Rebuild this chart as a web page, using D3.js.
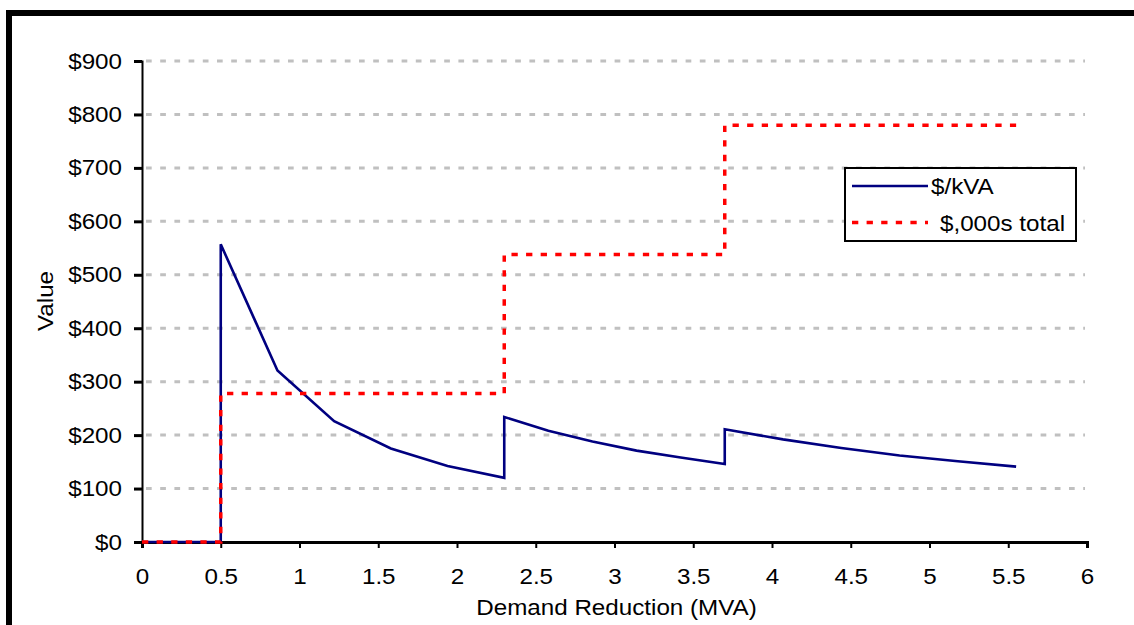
<!DOCTYPE html>
<html>
<head>
<meta charset="utf-8">
<script src="https://cdn.jsdelivr.net/npm/d3@7"></script>
<style>
  html, body { margin: 0; padding: 0; background: #fff; }
  svg { display: block; }
  text { font-family: "Liberation Sans", Arial, sans-serif; fill: #000; }
</style>
</head>
<body>
<svg id="chart" width="1134" height="625"></svg>
<script>
// Demand reduction (MVA) and the matching cost per kVA
const demandMVA = [0, 0.5, 0.5, 0.86, 1.22, 1.58, 1.94, 2.3, 2.3, 2.58, 2.86, 3.14, 3.42, 3.7, 3.7, 4.07, 4.44, 4.81, 5.18, 5.55];
const costPerKVA = [0, 0, 557, 321, 226, 175, 142, 120, 234, 208, 188, 171, 158, 146, 211, 192, 176, 162, 151, 141];

// Total cost ($,000s) steps: each value holds from its break point onward
const totalBreaks = [0, 0.5, 2.3, 3.7, 5.55];
const totalCost = [0, 278, 538, 780, 780];

const xTicks = [0, 0.5, 1, 1.5, 2, 2.5, 3, 3.5, 4, 4.5, 5, 5.5, 6];
const yTicks = [0, 100, 200, 300, 400, 500, 600, 700, 800, 900];
const seriesNames = ["$/kVA", "$,000s total"];

const FONT = 22;
const STRETCH = 1.1; // slightly wide lettering

const svg = d3.select("#chart");

// Outer frame (top and left edges)
svg.append("rect").attr("x", 6).attr("y", 10).attr("width", 1128).attr("height", 6).attr("fill", "#000");
svg.append("rect").attr("x", 6).attr("y", 10).attr("width", 6).attr("height", 615).attr("fill", "#000");

const x = d3.scaleLinear().domain([0, 6]).range([142, 1087]);
const y = d3.scaleLinear().domain([0, 900]).range([542, 61]);

// Horizontal gridlines
svg.append("g")
  .selectAll("line")
  .data(yTicks.filter(d => d > 0))
  .join("line")
  .attr("x1", x(0) + 4).attr("x2", x(6) - 2)
  .attr("y1", d => y(d)).attr("y2", d => y(d))
  .attr("stroke", "#c0c0c0").attr("stroke-width", 3)
  .attr("stroke-dasharray", "5.7,8.5");

// Y axis
const yAxis = d3.axisLeft(y).tickValues(yTicks).tickSize(8).tickPadding(12)
  .tickFormat(d => "$" + d);
const gy = svg.append("g").attr("transform", `translate(${x(0)},0)`).call(yAxis);
gy.select(".domain").attr("stroke", "#000").attr("stroke-width", 2);
gy.selectAll(".tick line").attr("stroke", "#000").attr("stroke-width", 3);
gy.selectAll(".tick text")
  .attr("font-size", FONT).attr("font-family", "Liberation Sans, Arial, sans-serif")
  .attr("x", -20 / STRETCH)
  .attr("transform", `scale(${STRETCH},1)`);

// X axis
const xAxis = d3.axisBottom(x).tickValues(xTicks).tickSize(6).tickPadding(20)
  .tickFormat(d => String(d));
const gx = svg.append("g").attr("transform", `translate(0,${y(0)})`).call(xAxis);
gx.select(".domain").attr("stroke", "#000").attr("stroke-width", 3);
gx.selectAll(".tick line").attr("stroke", "#000").attr("stroke-width", 2);
gx.selectAll(".tick text")
  .attr("font-size", FONT).attr("font-family", "Liberation Sans, Arial, sans-serif")
  .attr("transform", `scale(${STRETCH},1)`);

// Axis titles
svg.append("text")
  .attr("transform", `translate(${(x(0) + x(6)) / 2 + 2},615) scale(${STRETCH},1)`)
  .attr("text-anchor", "middle").attr("font-size", FONT)
  .text("Demand Reduction (MVA)");
svg.append("text")
  .attr("transform", `translate(53,301) rotate(-90) scale(${STRETCH},1)`)
  .attr("text-anchor", "middle").attr("font-size", FONT)
  .text("Value");

// $/kVA line
const perKvaLine = d3.line()
  .x((d, i) => x(demandMVA[i]))
  .y(d => y(d));
svg.append("path")
  .datum(costPerKVA)
  .attr("d", perKvaLine)
  .attr("fill", "none")
  .attr("stroke", "#000080")
  .attr("stroke-width", 2.6)
  .attr("stroke-linejoin", "miter");

// Total cost step line
const totalLine = d3.line()
  .x((d, i) => x(totalBreaks[i]))
  .y(d => y(d))
  .curve(d3.curveStepAfter);
svg.append("path")
  .datum(totalCost)
  .attr("d", totalLine)
  .attr("fill", "none")
  .attr("stroke", "#ff0000")
  .attr("stroke-width", 3.5)
  .attr("stroke-dasharray", "6.3,8.3");

// Legend
const legend = svg.append("g");
legend.append("rect")
  .attr("x", 845).attr("y", 168).attr("width", 231).attr("height", 73)
  .attr("fill", "#fff").attr("stroke", "#000").attr("stroke-width", 2);
const legendRows = [
  { name: seriesNames[0], color: "#000080", dash: null, width: 2.6, cy: 186, tx: 931 },
  { name: seriesNames[1], color: "#ff0000", dash: "6.3,8.3", width: 3.5, cy: 222.5, tx: 940 }
];
legendRows.forEach(r => {
  legend.append("line")
    .attr("x1", 852).attr("x2", 928).attr("y1", r.cy).attr("y2", r.cy)
    .attr("stroke", r.color).attr("stroke-width", r.width)
    .attr("stroke-dasharray", r.dash);
  legend.append("text")
    .attr("transform", `translate(${r.tx},${r.cy + 8}) scale(${STRETCH},1)`)
    .attr("font-size", FONT)
    .text(r.name);
});
</script>
</body>
</html>
